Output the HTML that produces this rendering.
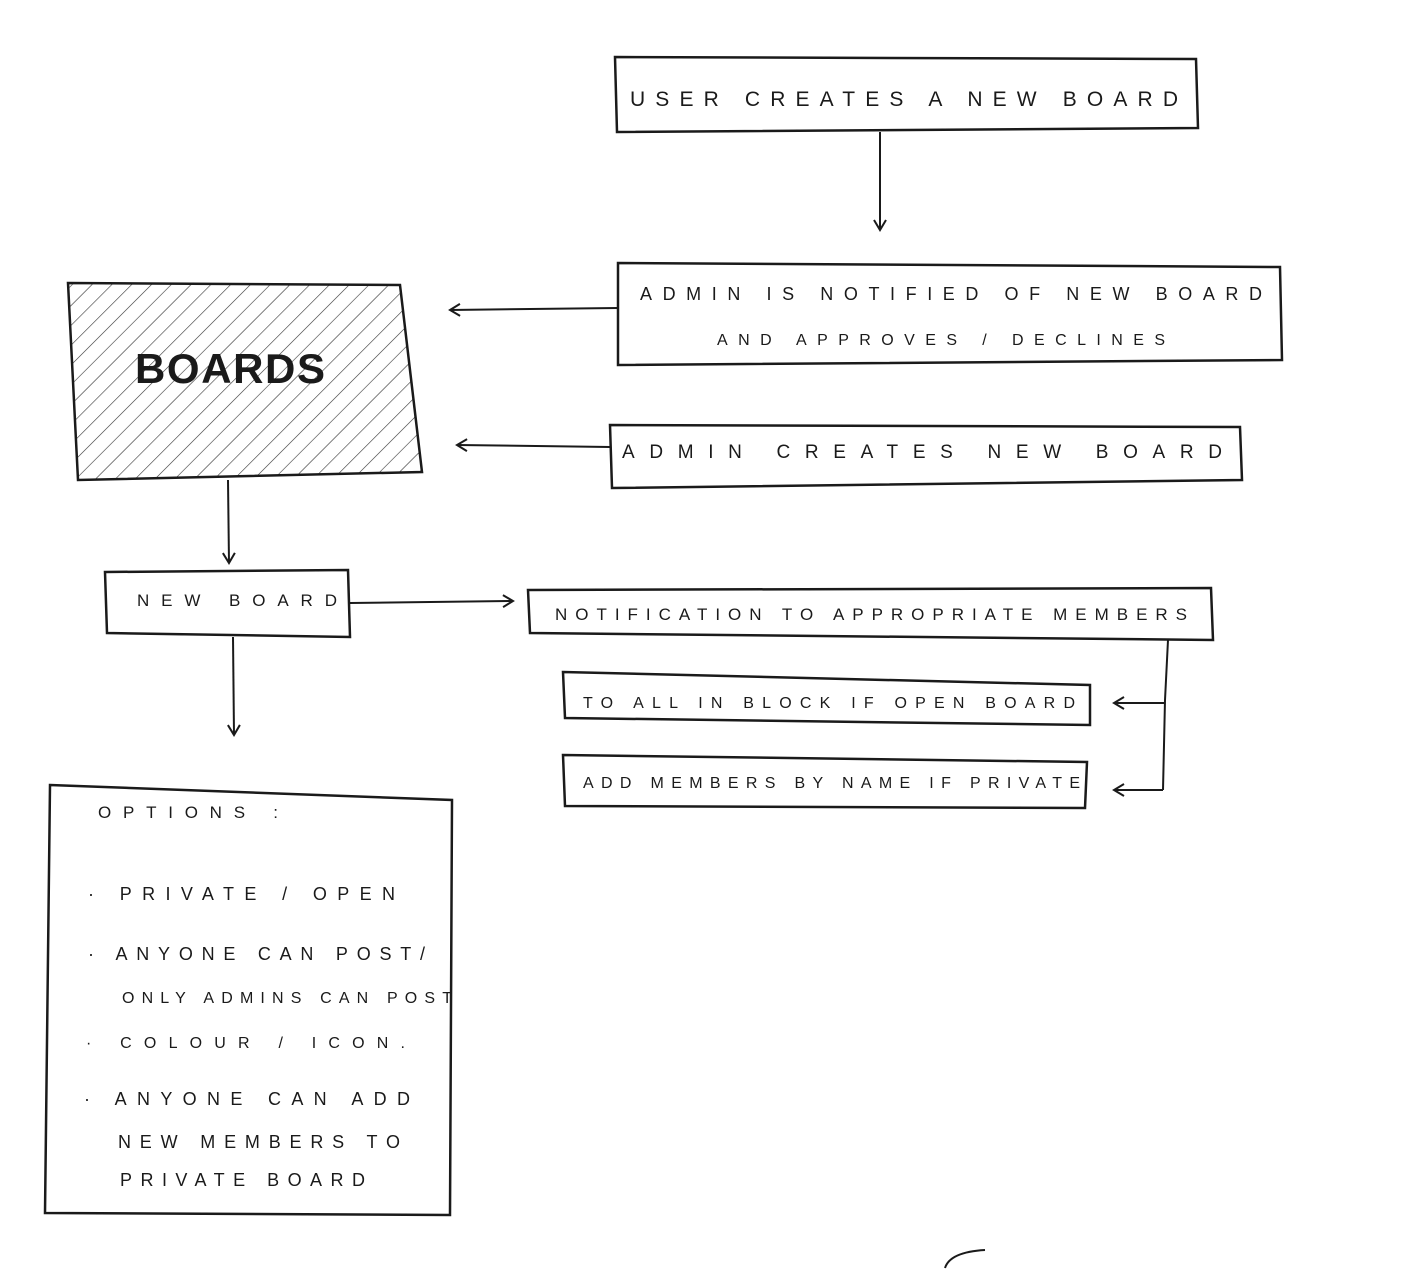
<!DOCTYPE html>
<html><head><meta charset="utf-8"><style>
html,body{margin:0;padding:0;background:#fff;}
svg{display:block}
text{font-family:"Liberation Sans",sans-serif;fill:#1a1a1a;}
</style></head><body>
<svg width="1403" height="1272" viewBox="0 0 1403 1272" xmlns="http://www.w3.org/2000/svg">
<defs>
<pattern id="h" width="14" height="14" patternUnits="userSpaceOnUse" patternTransform="rotate(45)">
<line x1="0" y1="0" x2="0" y2="14" stroke="#333" stroke-width="1.2"/>
</pattern>
<marker id="a" markerWidth="14" markerHeight="14" refX="11" refY="7" orient="auto" markerUnits="userSpaceOnUse">
<path d="M1,1 L11,7 L1,13" fill="none" stroke="#1a1a1a" stroke-width="2"/>
</marker>
</defs>
<g fill="none" stroke="#1a1a1a" stroke-width="2.5">
<path d="M615,57 L1196,59 L1198,128 L617,132 Z"/>
<path d="M618,263 L1280,267 L1282,360 L618,365 Z"/>
<path d="M68,283 L400,285 L422,472 L78,480 Z" fill="url(#h)"/>
<path d="M610,425 L1240,427 L1242,480 L612,488 Z"/>
<path d="M105,572 L348,570 L350,637 L107,633 Z"/>
<path d="M528,590 L1211,588 L1213,640 L530,633 Z"/>
<path d="M563,672 L1090,685 L1090,725 L565,718 Z"/>
<path d="M563,755 L1087,762 L1085,808 L565,806 Z"/>
<path d="M50,785 L452,800 L450,1215 L45,1213 Z"/>
</g>
<g fill="none" stroke="#1a1a1a" stroke-width="2">
<line x1="880" y1="132" x2="880" y2="230" marker-end="url(#a)"/>
<line x1="618" y1="308" x2="450" y2="310" marker-end="url(#a)"/>
<line x1="610" y1="447" x2="457" y2="445" marker-end="url(#a)"/>
<line x1="228" y1="480" x2="229" y2="563" marker-end="url(#a)"/>
<line x1="350" y1="603" x2="513" y2="601" marker-end="url(#a)"/>
<line x1="233" y1="637" x2="234" y2="735" marker-end="url(#a)"/>
<path d="M1168,640 L1165,700 L1163,790"/>
<line x1="1165" y1="703" x2="1114" y2="703" marker-end="url(#a)"/>
<line x1="1163" y1="790" x2="1114" y2="790" marker-end="url(#a)"/>
<path d="M945,1268 Q950,1252 985,1250"/>
</g>
<g lengthAdjust="spacing">
<text x="630" y="106" font-size="21" textLength="548" lengthAdjust="spacing">USER CREATES A NEW BOARD</text>
<text x="640" y="300" font-size="18" textLength="622" lengthAdjust="spacing">ADMIN IS NOTIFIED OF NEW BOARD</text>
<text x="717" y="345" font-size="16" textLength="448" lengthAdjust="spacing">AND APPROVES / DECLINES</text>
<text x="135" y="383" font-size="42" font-weight="bold" textLength="190" lengthAdjust="spacing">BOARDS</text>
<text x="622" y="458" font-size="19" textLength="600" lengthAdjust="spacing">ADMIN CREATES NEW BOARD</text>
<text x="137" y="606" font-size="17" textLength="200" lengthAdjust="spacing">NEW BOARD</text>
<text x="555" y="620" font-size="17" textLength="632" lengthAdjust="spacing">NOTIFICATION TO APPROPRIATE MEMBERS</text>
<text x="583" y="708" font-size="16" textLength="492" lengthAdjust="spacing">TO ALL IN BLOCK IF OPEN BOARD</text>
<text x="583" y="788" font-size="16" textLength="497" lengthAdjust="spacing">ADD MEMBERS BY NAME IF PRIVATE</text>
<text x="98" y="818" font-size="17" textLength="180" lengthAdjust="spacing">OPTIONS :</text>
<text x="88" y="900" font-size="18" textLength="307" lengthAdjust="spacing">· PRIVATE / OPEN</text>
<text x="88" y="960" font-size="18" textLength="337" lengthAdjust="spacing">· ANYONE CAN POST/</text>
<text x="122" y="1003" font-size="16" textLength="330" lengthAdjust="spacing">ONLY ADMINS CAN POST</text>
<text x="86" y="1048" font-size="16" textLength="319" lengthAdjust="spacing">· COLOUR / ICON.</text>
<text x="84" y="1105" font-size="18" textLength="326" lengthAdjust="spacing">· ANYONE CAN ADD</text>
<text x="118" y="1148" font-size="18" textLength="282" lengthAdjust="spacing">NEW MEMBERS TO</text>
<text x="120" y="1186" font-size="18" textLength="245" lengthAdjust="spacing">PRIVATE BOARD</text>
</g>
</svg>
</body></html>
